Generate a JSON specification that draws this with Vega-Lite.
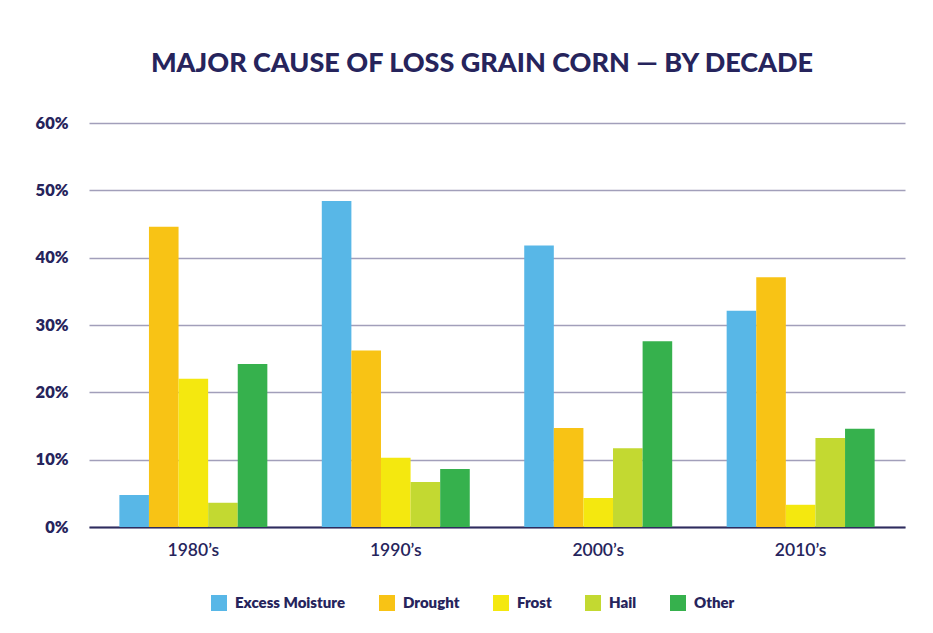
{
  "$schema": "https://vega.github.io/schema/vega-lite/v6.json",
  "width": 816,
  "height": 404,
  "autosize": {"type": "none"},
  "padding": {"left": 89, "top": 123, "right": 28, "bottom": 106},
  "background": "white",
  "title": {
    "text": "MAJOR CAUSE OF LOSS GRAIN CORN — BY DECADE",
    "font": "Lato",
    "fontWeight": 900,
    "fontSize": 27,
    "color": "#26245C",
    "anchor": "middle",
    "dx": -15,
    "offset": 37
  },
  "data": {
    "values": [
      {"decade": "1980’s", "cause": "Excess Moisture", "share": 0.0475},
      {"decade": "1980’s", "cause": "Drought", "share": 0.446},
      {"decade": "1980’s", "cause": "Frost", "share": 0.220},
      {"decade": "1980’s", "cause": "Hail", "share": 0.036},
      {"decade": "1980’s", "cause": "Other", "share": 0.242},
      {"decade": "1990’s", "cause": "Excess Moisture", "share": 0.484},
      {"decade": "1990’s", "cause": "Drought", "share": 0.262},
      {"decade": "1990’s", "cause": "Frost", "share": 0.103},
      {"decade": "1990’s", "cause": "Hail", "share": 0.067},
      {"decade": "1990’s", "cause": "Other", "share": 0.086},
      {"decade": "2000’s", "cause": "Excess Moisture", "share": 0.418},
      {"decade": "2000’s", "cause": "Drought", "share": 0.147},
      {"decade": "2000’s", "cause": "Frost", "share": 0.043},
      {"decade": "2000’s", "cause": "Hail", "share": 0.117},
      {"decade": "2000’s", "cause": "Other", "share": 0.276},
      {"decade": "2010’s", "cause": "Excess Moisture", "share": 0.321},
      {"decade": "2010’s", "cause": "Drought", "share": 0.371},
      {"decade": "2010’s", "cause": "Frost", "share": 0.033},
      {"decade": "2010’s", "cause": "Hail", "share": 0.132},
      {"decade": "2010’s", "cause": "Other", "share": 0.146}
    ]
  },
  "mark": {"type": "bar"},
  "encoding": {
    "x": {
      "field": "decade",
      "type": "nominal",
      "sort": null,
      "scale": {"paddingInner": 0.269, "paddingOuter": 0.15},
      "axis": {
        "title": null,
        "labelAngle": 0,
        "labelFont": "Lato",
        "labelFontSize": 17.5,
        "labelFontWeight": 600,
        "labelColor": "#26245C",
        "labelPadding": 14,
        "ticks": false,
        "domainColor": "#2E2C5E",
        "domainWidth": 2
      }
    },
    "xOffset": {"field": "cause", "type": "nominal", "sort": ["Excess Moisture", "Drought", "Frost", "Hail", "Other"]},
    "y": {
      "field": "share",
      "type": "quantitative",
      "scale": {"domain": [0, 0.6]},
      "axis": {
        "title": null,
        "format": ".0%",
        "values": [0, 0.1, 0.2, 0.3, 0.4, 0.5, 0.6],
        "labelFont": "Lato",
        "labelFontSize": 16.5,
        "labelFontWeight": 800,
        "labelColor": "#26245C",
        "labelPadding": 21,
        "ticks": false,
        "domain": false,
        "gridColor": "#A29FBA",
        "gridWidth": 1.5
      }
    },
    "color": {
      "field": "cause",
      "type": "nominal",
      "sort": ["Excess Moisture", "Drought", "Frost", "Hail", "Other"],
      "scale": {
        "domain": ["Excess Moisture", "Drought", "Frost", "Hail", "Other"],
        "range": ["#58B7E7", "#F8C315", "#F4E80F", "#C3D931", "#36B14D"]
      },
      "legend": {
        "title": null,
        "orient": "none",
        "legendX": 122,
        "legendY": 472,
        "direction": "horizontal",
        "symbolType": "square",
        "symbolSize": 256,
        "symbolStrokeWidth": 0,
        "symbolOpacity": 1,
        "labelFont": "Lato",
        "labelFontSize": 15,
        "labelFontWeight": 800,
        "labelColor": "#26245C",
        "labelOffset": 8,
        "columnPadding": 33
      }
    }
  },
  "config": {
    "view": {"stroke": null}
  }
}
